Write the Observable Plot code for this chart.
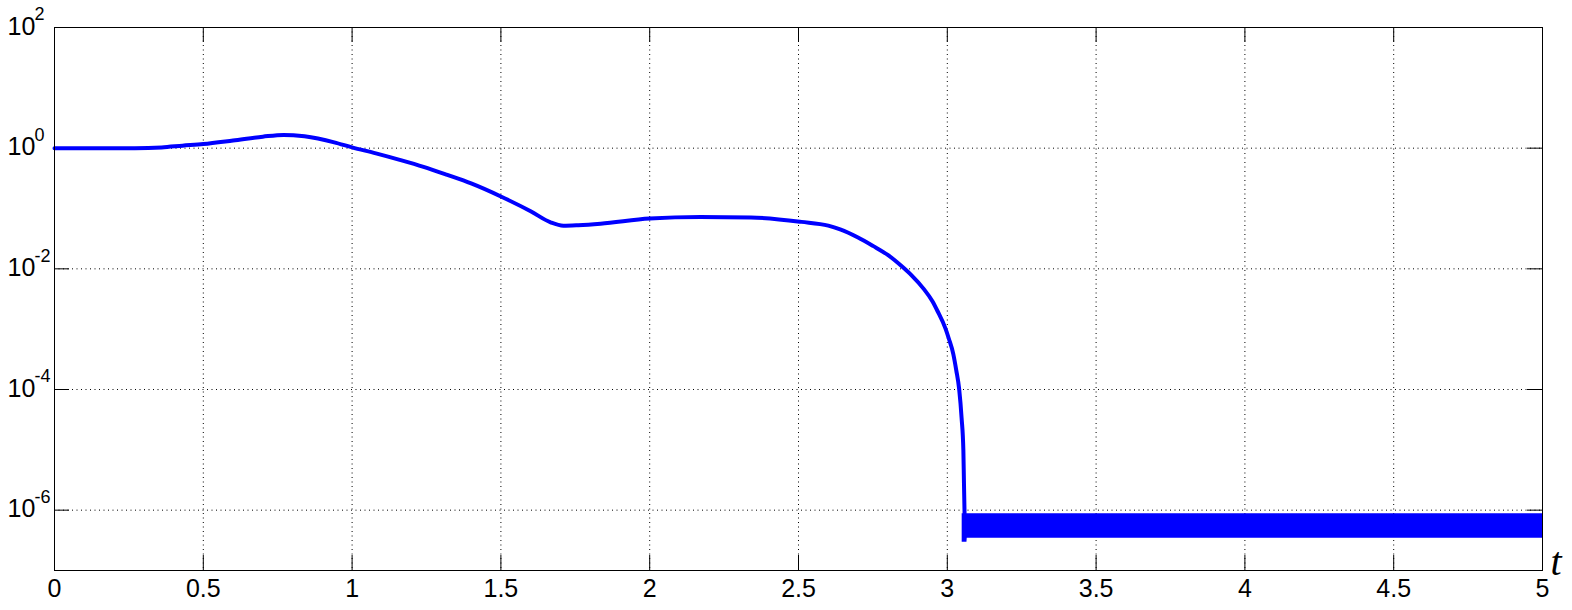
<!DOCTYPE html>
<html>
<head>
<meta charset="utf-8">
<script src="https://cdn.jsdelivr.net/npm/d3@7"></script>
<script src="https://cdn.jsdelivr.net/npm/@observablehq/plot@0.6"></script>
<style>
  html, body { margin: 0; padding: 0; background: #fff; }
  svg { display: block; }
</style>
</head>
<body>
<div id="chart"></div>
<script>
// Main curve: time t and value (log scale)
const tValues = [0, 0.1, 0.2, 0.27, 0.36, 0.43, 0.5, 0.6, 0.7, 0.77, 0.84, 0.94, 1.0, 1.08, 1.16, 1.24, 1.32, 1.4, 1.5, 1.6, 1.667, 1.71, 1.76, 1.835, 2.0, 2.17, 2.34, 2.51, 2.6, 2.64, 2.7, 2.75, 2.8, 2.85, 2.88, 2.92, 2.95, 2.967, 2.994, 3.005, 3.02, 3.03, 3.04, 3.048, 3.054, 3.056, 3.058];
const yValues = [1.0, 1.0, 1.0, 1.0, 1.03, 1.1, 1.17, 1.34, 1.55, 1.66, 1.57, 1.25, 1.03, 0.82, 0.64, 0.49, 0.36, 0.26, 0.158, 0.09, 0.059, 0.052, 0.053, 0.056, 0.068, 0.072, 0.071, 0.060, 0.052, 0.045, 0.033, 0.024, 0.017, 0.0107, 0.0078, 0.0047, 0.0029, 0.002, 0.00102, 7e-4, 3.9e-4, 2.1e-4, 1e-4, 3.4e-5, 9.8e-6, 2.8e-6, 8.7e-7];

// Oscillating band after the drop (envelope of the fast oscillation)
const bandT = [3.050, 3.066, 3.067, 5];
const bandLow = [2.95e-7, 2.95e-7, 3.44e-7, 3.44e-7];
const bandHigh = [8.7e-7, 8.7e-7, 8.7e-7, 8.7e-7];

// Axis ticks
const xTicks = [0, 0.5, 1, 1.5, 2, 2.5, 3, 3.5, 4, 4.5, 5];
const xTickLabels = ["0", "0.5", "1", "1.5", "2", "2.5", "3", "3.5", "4", "4.5", "5"];
const yTicks = [1e2, 1e0, 1e-2, 1e-4, 1e-6];
const yExponents = ["2", "0", "-2", "-4", "-6"];

const curve = tValues.map((t, i) => ({t, y: yValues[i]}));
const band = bandT.map((t, i) => ({t, lo: bandLow[i], hi: bandHigh[i]}));
const yLab = yTicks.map((v, i) => ({v, e: yExponents[i]}));
const xLab = xTicks.map((v, i) => ({v, s: xTickLabels[i]}));

const W = 1572, H = 610;
const mL = 54, mR = 30, mT = 27, mB = 40;
const pw = W - mL - mR, ph = H - mT - mB;
const tickLen = 15;
const font = "Arial, 'Liberation Sans', Helvetica, sans-serif";

const chart = Plot.plot({
  width: W,
  height: H,
  marginLeft: mL,
  marginRight: mR,
  marginTop: mT,
  marginBottom: mB,
  style: {fontFamily: font, background: "#fff", overflow: "visible"},
  x: {domain: [0, 5], axis: null},
  y: {type: "log", domain: [1e-7, 1e2], axis: null},
  marks: [
    // dotted grid
    Plot.ruleX(xTicks.slice(1, -1), {stroke: "#000", strokeWidth: 1, strokeDasharray: "1,3.5", strokeOpacity: 1}),
    Plot.ruleY(yTicks.slice(1), {stroke: "#000", strokeWidth: 1, strokeDasharray: "1,3.5", strokeOpacity: 1}),
    // inward ticks
    Plot.tickX(xTicks, {x: d => d, stroke: "#000", insetTop: ph - tickLen}),
    Plot.tickX(xTicks, {x: d => d, stroke: "#000", insetBottom: ph - tickLen}),
    Plot.tickY(yTicks, {y: d => d, stroke: "#000", insetRight: pw - tickLen}),
    Plot.tickY(yTicks, {y: d => d, stroke: "#000", insetLeft: pw - tickLen}),
    // data
    Plot.areaY(band, {x: "t", y1: "lo", y2: "hi", fill: "#0000FF", curve: "linear"}),
    Plot.line(curve, {x: "t", y: "y", stroke: "#0000FF", strokeWidth: 4, curve: "monotone-x", strokeLinejoin: "round"}),
    // frame
    Plot.frame({stroke: "#000", strokeWidth: 1}),
    // x tick labels
    Plot.text(xLab, {x: "v", text: "s", frameAnchor: "bottom", lineAnchor: "top", dy: 9, fontSize: 25, fill: "#000"}),
    // y tick labels: base and exponent
    Plot.text(yLab, {y: "v", text: d => "10", frameAnchor: "left", textAnchor: "start", lineAnchor: "middle", dx: -47, dy: -1, fontSize: 25, fill: "#000"}),
    Plot.text(yLab, {y: "v", text: "e", frameAnchor: "left", textAnchor: "start", lineAnchor: "middle", dx: -20, dy: -13, fontSize: 18, fill: "#000"}),
    // axis label t
    Plot.text(["t"], {frameAnchor: "bottom-right", textAnchor: "start", lineAnchor: "bottom", dx: 8, dy: 4, fontSize: 40, fontStyle: "italic", fontFamily: "'Liberation Serif', 'Times New Roman', serif", fill: "#000"})
  ]
});

document.getElementById("chart").appendChild(chart);
</script>
</body>
</html>
